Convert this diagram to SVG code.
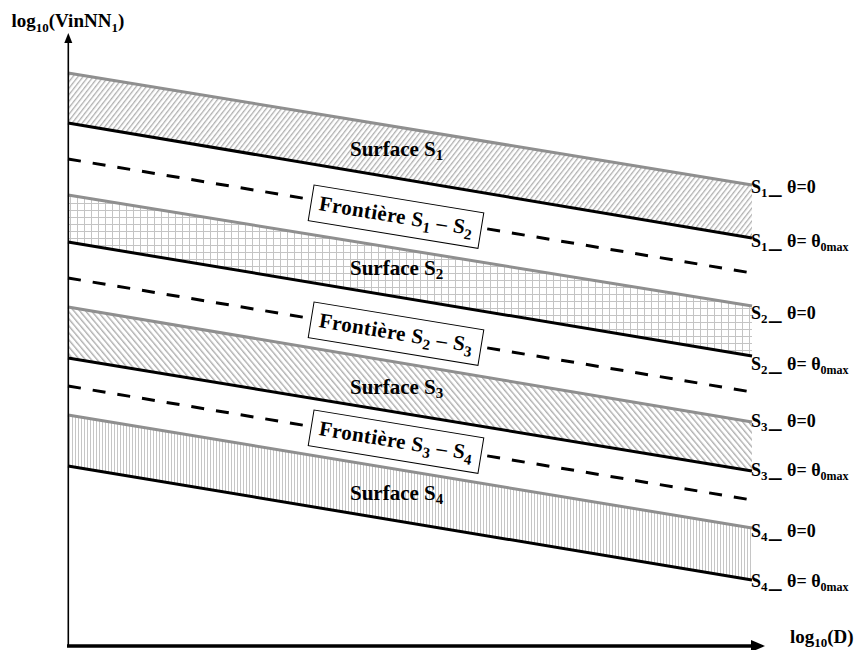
<svg xmlns="http://www.w3.org/2000/svg" width="859" height="650" viewBox="0 0 859 650">
<style>
text{font-family:"Liberation Serif","Times New Roman",serif;font-weight:bold;fill:#000}
.lab{font-size:18px}
.sl{font-size:21px}
.ax{font-size:19px}
.fr{font-size:21px;letter-spacing:0.4px}
.g{stroke:#8f8f8f;stroke-width:3;fill:none}
.k{stroke:#000;stroke-width:3;fill:none}
.d{stroke:#000;stroke-width:3;fill:none;stroke-dasharray:13 12}
.box{fill:#fff;stroke:#000;stroke-width:1}
.axis{stroke:#000;fill:none}
</style>
<defs>
<pattern id="p1" width="4" height="10" patternUnits="userSpaceOnUse" patternTransform="rotate(38)"><rect x="0" y="0" width="1.3" height="10" fill="#b0b0b0"/></pattern>
<pattern id="p2" width="7" height="7" patternUnits="userSpaceOnUse"><path d="M0.5 0V7M0 0.5H7" stroke="#c4c4c4" stroke-width="1"/></pattern>
<pattern id="p3" width="4.5" height="10" patternUnits="userSpaceOnUse" patternTransform="rotate(-40)"><rect x="0" y="0" width="1.4" height="10" fill="#b0b0b0"/></pattern>
<pattern id="p4" width="3" height="10" patternUnits="userSpaceOnUse"><rect x="0" y="0" width="1" height="10" fill="#c6c6c6"/></pattern>
</defs>

<g id="surface-S1">
<polygon points="68,73 752,185 752,238 68,123" fill="url(#p1)"/>
<line class="g" x1="68" y1="73" x2="752" y2="185"/>
<line class="k" x1="68" y1="123" x2="752" y2="238"/>
<text class="sl" x="350" y="156">Surface S<tspan font-size="15" dy="4">1</tspan></text>
</g>
<g id="surface-S2">
<polygon points="68,195 752,306 752,356 68,242" fill="url(#p2)"/>
<line class="g" x1="68" y1="195" x2="752" y2="306"/>
<line class="k" x1="68" y1="242" x2="752" y2="356"/>
<text class="sl" x="350" y="275">Surface S<tspan font-size="15" dy="4">2</tspan></text>
</g>
<g id="surface-S3">
<polygon points="68,307 752,422 752,471 68,358" fill="url(#p3)"/>
<line class="g" x1="68" y1="307" x2="752" y2="422"/>
<line class="k" x1="68" y1="358" x2="752" y2="471"/>
<text class="sl" x="350" y="394">Surface S<tspan font-size="15" dy="4">3</tspan></text>
</g>
<g id="surface-S4">
<polygon points="68,415 752,528 752,580 68,466" fill="url(#p4)"/>
<line class="g" x1="68" y1="415" x2="752" y2="528"/>
<line class="k" x1="68" y1="466" x2="752" y2="580"/>
<text class="sl" x="350" y="500">Surface S<tspan font-size="15" dy="4">4</tspan></text>
</g>

<g id="connectors">
<line class="d" x1="68" y1="159" x2="752" y2="273"/>
<line class="d" x1="68" y1="278" x2="752" y2="392"/>
<line class="d" x1="68" y1="386" x2="752" y2="500"/>
<line class="axis" stroke-width="1.6" x1="68.3" y1="646" x2="68.3" y2="42"/>
<polygon points="68.3,33 64.3,43 72.3,43" fill="#000"/>
<line class="axis" stroke-width="3.5" x1="67" y1="646" x2="752" y2="646"/>
<polygon points="765,646 751,640 751,652" fill="#000"/>
</g>

<g id="frontiere-S1-S2" transform="translate(396,216.7) rotate(9.3)">
<rect class="box" x="-86" y="-18" width="172" height="36"/>
<text class="fr" x="0" y="6" text-anchor="middle">Frontière S<tspan font-size="15" dy="5">1</tspan><tspan dy="-5"> – S</tspan><tspan font-size="15" dy="5">2</tspan></text>
</g>
<g id="frontiere-S2-S3" transform="translate(396,333.7) rotate(9.3)">
<rect class="box" x="-86" y="-18" width="172" height="36"/>
<text class="fr" x="0" y="6" text-anchor="middle">Frontière S<tspan font-size="15" dy="5">2</tspan><tspan dy="-5"> – S</tspan><tspan font-size="15" dy="5">3</tspan></text>
</g>
<g id="frontiere-S3-S4" transform="translate(396,441.7) rotate(9.3)">
<rect class="box" x="-86" y="-18" width="172" height="36"/>
<text class="fr" x="0" y="6" text-anchor="middle">Frontière S<tspan font-size="15" dy="5">3</tspan><tspan dy="-5"> – S</tspan><tspan font-size="15" dy="5">4</tspan></text>
</g>

<g id="labels">
<text class="lab" x="751" y="193">S<tspan font-size="13" dy="4">1</tspan><tspan x="769" dy="-4" font-size="25">_</tspan><tspan x="787" font-size="18">θ=0</tspan></text>
<text class="lab" x="751" y="246.5">S<tspan font-size="13" dy="4">1</tspan><tspan x="769" dy="-4" font-size="25">_</tspan><tspan x="787" font-size="18">θ= θ</tspan><tspan font-size="12" dy="4">0max</tspan></text>
<text class="lab" x="751" y="319">S<tspan font-size="13" dy="4">2</tspan><tspan x="769" dy="-4" font-size="25">_</tspan><tspan x="787" font-size="18">θ=0</tspan></text>
<text class="lab" x="751" y="370">S<tspan font-size="13" dy="4">2</tspan><tspan x="769" dy="-4" font-size="25">_</tspan><tspan x="787" font-size="18">θ= θ</tspan><tspan font-size="12" dy="4">0max</tspan></text>
<text class="lab" x="751" y="426.5">S<tspan font-size="13" dy="4">3</tspan><tspan x="769" dy="-4" font-size="25">_</tspan><tspan x="787" font-size="18">θ=0</tspan></text>
<text class="lab" x="751" y="476">S<tspan font-size="13" dy="4">3</tspan><tspan x="769" dy="-4" font-size="25">_</tspan><tspan x="787" font-size="18">θ= θ</tspan><tspan font-size="12" dy="4">0max</tspan></text>
<text class="lab" x="751" y="536.5">S<tspan font-size="13" dy="4">4</tspan><tspan x="769" dy="-4" font-size="25">_</tspan><tspan x="787" font-size="18">θ=0</tspan></text>
<text class="lab" x="751" y="587">S<tspan font-size="13" dy="4">4</tspan><tspan x="769" dy="-4" font-size="25">_</tspan><tspan x="787" font-size="18">θ= θ</tspan><tspan font-size="12" dy="4">0max</tspan></text>
</g>

<g id="axis-labels">
<text class="ax" x="11.5" y="26.5">log<tspan font-size="13" dy="5">10</tspan><tspan dy="-5">(VinNN</tspan><tspan font-size="13" dy="5">1</tspan><tspan dy="-5">)</tspan></text>
<text class="ax" x="790" y="643">log<tspan font-size="13" dy="4">10</tspan><tspan dy="-4">(D)</tspan></text>
</g>
</svg>
